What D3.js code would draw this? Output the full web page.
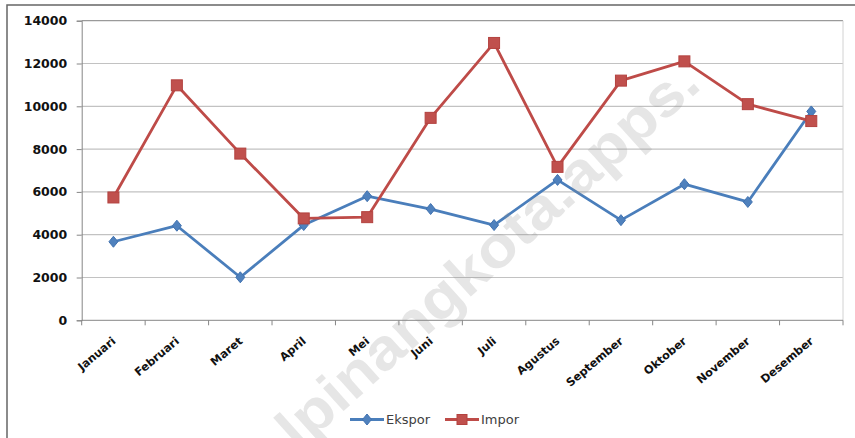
<!DOCTYPE html>
<html>
<head>
<meta charset='utf-8'>
<title>Ekspor dan Impor</title>
<script src='https://d3js.org/d3.v7.min.js'></script>
<style>
  body { margin: 0; background: #fff; }
  svg { display: block; }
</style>
</head>
<body>
<div id="container"></div>
<script>

// Data
var months = ["Januari","Februari","Maret","April","Mei","Juni",
              "Juli","Agustus","September","Oktober","November","Desember"];
var ekspor = [3670, 4420, 2010, 4450, 5800, 5200, 4450, 6560, 4680, 6360, 5530, 9760];
var impor  = [5740, 10980, 7790, 4760, 4820, 9460, 12960, 7170, 11200, 12100, 10100, 9310];
var yTicks = [0, 2000, 4000, 6000, 8000, 10000, 12000, 14000];
var seriesNames = ["Ekspor", "Impor"];
var watermark = "lpinangkota.apps.";

// ******* Constants *******
const width = 855,
      height = 438,
      margin = { top: 20.7, bottom: 117.7, left: 81.7, right: 12 };

const blue = "#4a7ebb", red = "#be4b48";

var svg = d3.select("#container").append("svg")
    .attr("width", width)
    .attr("height", height);

svg.append("rect").attr("width", width).attr("height", height).attr("fill", "#fff");

// outer chart frame (only top and left edges are in view)
svg.append("path")
    .attr("d", `M7,${height} V5 H${width}`)
    .attr("fill", "none")
    .attr("stroke", "#666")
    .attr("stroke-width", 1.5);

var x = d3.scaleBand()
    .domain(months)
    .range([margin.left, width - margin.right]);

var y = d3.scaleLinear()
    .domain([0, 14000])
    .range([height - margin.bottom, margin.top]);

var cx = function(m) { return x(m) + x.bandwidth() / 2; };

// gridlines
svg.append("g")
  .selectAll("line")
  .data(yTicks.slice(1))
  .enter().append("line")
    .attr("x1", margin.left)
    .attr("x2", width - margin.right)
    .attr("y1", function(d) { return y(d); })
    .attr("y2", function(d) { return y(d); })
    .attr("stroke", function(d) { return d == 14000 ? "#9a9a9a" : "#c2c2c2"; })
    .attr("stroke-width", 1.2);

// plot area right border
svg.append("line")
    .attr("x1", width - margin.right).attr("x2", width - margin.right)
    .attr("y1", y(14000)).attr("y2", y(0))
    .attr("stroke", "#d2d2d2");

// ******* Axes *******
var yAxis = svg.append("g")
    .attr("transform", `translate(${margin.left}, 0)`)
    .call(d3.axisLeft(y).tickValues(yTicks).tickSize(5).tickPadding(9.5).tickFormat(d3.format("d")));
yAxis.selectAll("path, line").attr("stroke", "#868686");
yAxis.selectAll("text")
    .attr("font-family", "DejaVu Sans")
    .attr("font-weight", "bold")
    .attr("font-size", "12.5px")
    .attr("fill", "#111");

// x axis line + tick marks at category boundaries
var xg = svg.append("g");
xg.append("line")
    .attr("x1", margin.left).attr("x2", width - margin.right)
    .attr("y1", y(0)).attr("y2", y(0))
    .attr("stroke", "#868686");
xg.selectAll(".tk")
  .data(months.map(function(m) { return x(m); }).concat([x(months[months.length - 1]) + x.bandwidth()]))
  .enter().append("line")
    .attr("class", "tk")
    .attr("x1", function(d) { return d; }).attr("x2", function(d) { return d; })
    .attr("y1", y(0)).attr("y2", y(0) + 5)
    .attr("stroke", "#868686");
xg.selectAll("text")
  .data(months)
  .enter().append("text")
    .attr("transform", function(m) { return `translate(${cx(m) + 3}, ${y(0) + 22}) rotate(-40)`; })
    .attr("text-anchor", "end")
    .attr("font-family", "DejaVu Sans")
    .attr("font-weight", "bold")
    .attr("font-size", "11.3px")
    .attr("fill", "#111")
    .text(function(m) { return m; });

// ******* Lines *******
function drawSeries(vals, color) {
  var line = d3.line()
      .x(function(d, i) { return cx(months[i]); })
      .y(function(d) { return y(d); });
  svg.append("path")
      .datum(vals)
      .attr("d", line)
      .attr("fill", "none")
      .attr("stroke", color)
      .attr("stroke-width", 2.8)
      .attr("stroke-linejoin", "round");
}
drawSeries(ekspor, blue);
drawSeries(impor, red);

var diamond = "M0,-5.5 L4.5,0 L0,5.5 L-4.5,0 Z";
svg.append("g").selectAll("path")
  .data(ekspor)
  .enter().append("path")
    .attr("d", diamond)
    .attr("transform", function(d, i) { return `translate(${cx(months[i])}, ${y(d)})`; })
    .attr("fill", "#4f81bd")
    .attr("stroke", "#4172b0");

svg.append("g").selectAll("rect")
  .data(impor)
  .enter().append("rect")
    .attr("x", function(d, i) { return cx(months[i]) - 5.5; })
    .attr("y", function(d) { return y(d) - 5.5; })
    .attr("width", 11)
    .attr("height", 11)
    .attr("fill", "#c0504d")
    .attr("stroke", "#b3423f");

// ******* Legend *******
var legend = svg.append("g").attr("transform", "translate(350, 419.5)");
var items = [{ name: seriesNames[0], color: blue, dx: 0 },
             { name: seriesNames[1], color: red, dx: 95 }];
items.forEach(function(it, k) {
  var g = legend.append("g").attr("transform", `translate(${it.dx}, 0)`);
  g.append("line").attr("x1", 0).attr("x2", 34).attr("stroke", it.color).attr("stroke-width", 2.8);
  if (k == 0) {
    g.append("path").attr("d", diamond).attr("transform", "translate(17,0)")
      .attr("fill", "#4f81bd").attr("stroke", "#4172b0");
  } else {
    g.append("rect").attr("x", 12).attr("y", -5).attr("width", 10).attr("height", 10)
      .attr("fill", "#c0504d").attr("stroke", "#b3423f");
  }
  g.append("text")
    .attr("x", 36).attr("y", 4.5)
    .attr("font-family", "DejaVu Sans")
    .attr("font-size", "13px")
    .attr("fill", "#404040")
    .text(it.name);
});

// ******* Watermark *******
svg.append("text")
    .attr("transform", "translate(298, 452) rotate(-42)")
    .attr("font-family", "Liberation Sans")
    .attr("font-weight", "bold")
    .attr("font-size", "58px")
    .attr("textLength", 545)
    .attr("lengthAdjust", "spacingAndGlyphs")
    .attr("fill", "#8c8c8c")
    .attr("fill-opacity", 0.22)
    .text(watermark);

</script>
</body>
</html>
